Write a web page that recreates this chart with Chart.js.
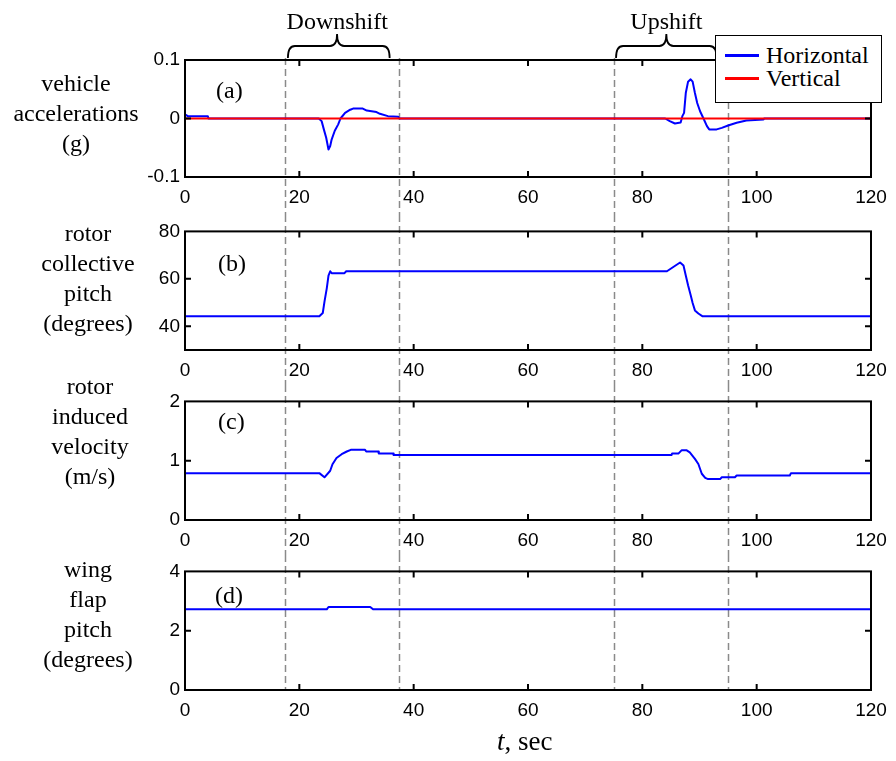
<!DOCTYPE html>
<html><head><meta charset="utf-8">
<script src="https://cdn.jsdelivr.net/npm/chart.js@4.4.1/dist/chart.umd.min.js"></script>
<style>
html,body{margin:0;padding:0;background:#fff;}
#wrap{position:relative;width:896px;height:761px;overflow:hidden;background:#fff;}
canvas{position:absolute;left:0;}
.t{position:absolute;font-family:'Liberation Serif','Times New Roman',serif;font-size:24px;color:#000;line-height:30px;white-space:nowrap;}
.yl{text-align:center;width:180px;}
#legend{position:absolute;left:715px;top:35px;width:165px;height:66px;border:1.5px solid #000;background:#fff;}
.lg{position:absolute;left:9px;width:34px;height:3px;}
</style></head><body>
<div id="wrap">
<canvas id="ca" width="896" height="215" style="top:0px"></canvas>
<canvas id="cb" width="896" height="170" style="top:215px"></canvas>
<canvas id="cc" width="896" height="170" style="top:385px"></canvas>
<canvas id="cd" width="896" height="206" style="top:555px"></canvas>

<div class="t yl" style="left:-14px;top:68px">vehicle<br>accelerations<br>(g)</div>
<div class="t yl" style="left:-2px;top:218px">rotor<br>collective<br>pitch<br>(degrees)</div>
<div class="t yl" style="left:0px;top:371px">rotor<br>induced<br>velocity<br>(m/s)</div>
<div class="t yl" style="left:-2px;top:554px">wing<br>flap<br>pitch<br>(degrees)</div>

<div class="t" style="left:216px;top:75px">(a)</div>
<div class="t" style="left:218px;top:248px">(b)</div>
<div class="t" style="left:218px;top:406px">(c)</div>
<div class="t" style="left:215px;top:580px">(d)</div>

<div class="t" id="lblDown" style="top:6px">Downshift</div>
<div class="t" id="lblUp" style="top:6px">Upshift</div>

<div id="legend"></div>

<div class="t" style="left:497px;top:726px;font-size:27px"><i>t</i>, sec</div>
</div>

<script>
// ---------------- data ----------------
const xTicks = [0, 20, 40, 60, 80, 100, 120];
const shiftLines = [17.5, 37.5, 75, 95];
const shiftNames = ['Downshift', 'Upshift'];
const shiftBraces = [[18, 26.6, 35.8], [75.4, 84.2, 93]];
const seriesNames = ['Horizontal', 'Vertical'];

// (a) vehicle accelerations (g)
const accH_t = [0, 0.5, 4, 4.1, 23.4, 23.9, 24.3, 24.7, 25.1, 25.4, 25.65, 26.2, 26.8, 27.2, 28.0, 28.9, 29.4, 31.1, 31.8, 33.5, 34.1, 35.5, 37.3, 37.5,
  84.0, 84.8, 85.7, 86.7, 87.0, 87.3, 87.6, 88.0, 88.45, 88.8, 89.2, 89.6, 90.1, 90.7, 91.3, 91.7, 93.0, 93.9, 95.0, 96.5, 98.2, 101.2, 101.3, 120];
const accH_v = [0.007, 0.004, 0.004, 0, 0, -0.0045, -0.019, -0.033, -0.053, -0.047, -0.036, -0.021, -0.010, 0, 0.0096, 0.015, 0.017, 0.017, 0.0135, 0.011, 0.008, 0.004, 0.003, 0,
  0, -0.0045, -0.0085, -0.007, 0.004, 0.0096, 0.0435, 0.063, 0.067, 0.063, 0.0435, 0.0265, 0.0124, 0, -0.013, -0.0186, -0.0186, -0.016, -0.012, -0.0073, -0.0034, -0.0017, 0, 0];
const accV_t = [0, 120];
const accV_v = [0, 0];
const yTicksA = [-0.1, 0, 0.1];

// (b) rotor collective pitch (degrees)
const pitch_t = [0, 23.5, 24.1, 24.4, 24.8, 25.1, 25.4, 25.65, 27.9, 28.2, 84.3, 86.6, 87.2, 87.6, 88.0, 88.45, 88.8, 89.2, 89.8, 90.55, 120];
const pitch_v = [44.2, 44.2, 45.6, 50.4, 56.0, 61.4, 63.2, 62.4, 62.4, 63.2, 63.2, 66.9, 65.6, 61.4, 57.3, 53.2, 49.8, 46.7, 45.4, 44.2, 44.2];
const yTicksB = [40, 60, 80];

// (c) rotor induced velocity (m/s)
const vi_t = [0, 23.5, 24.4, 25.4, 25.8, 26.5, 27.4, 28.3, 29.0, 31.5, 31.7, 33.8, 33.9, 36.4, 36.5, 85.1, 85.2, 86.3, 86.9, 87.7, 88.3, 89.2, 89.8, 90.4, 91.0, 91.5, 93.6, 93.9, 96.2, 96.5, 105.8, 106.0, 120];
const vi_v = [0.79, 0.79, 0.72, 0.83, 0.94, 1.045, 1.11, 1.155, 1.183, 1.183, 1.155, 1.155, 1.12, 1.12, 1.095, 1.095, 1.12, 1.12, 1.178, 1.178, 1.14, 1.03, 0.945, 0.78, 0.71, 0.69, 0.69, 0.72, 0.72, 0.75, 0.75, 0.79, 0.79];
const yTicksC = [0, 1, 2];

// (d) wing flap pitch (degrees)
const flap_t = [0, 24.8, 25.1, 32.4, 32.9, 120];
const flap_v = [2.72, 2.72, 2.8, 2.8, 2.72, 2.72];
const yTicksD = [0, 2, 4];

// ---------------- helpers ----------------
const BLUE = '#0000ff', RED = '#ff0000';
function pts(t, v) { return t.map((x, i) => ({ x: x, y: v[i] })); }

const dashPlugin = {
  id: 'dashLines',
  beforeDatasetsDraw(chart, args, opts) {
    const x = chart.scales.x, ctx = chart.ctx;
    ctx.save();
    ctx.strokeStyle = '#8a8a8a'; ctx.lineWidth = 1.5; ctx.setLineDash([7, 4]);
    shiftLines.forEach(t => {
      const px = Math.round(x.getPixelForValue(t)) + 0.5;
      ctx.beginPath(); ctx.moveTo(px, opts.from); ctx.lineTo(px, opts.to); ctx.stroke();
    });
    ctx.restore();
  }
};

const boxPlugin = {
  id: 'matBox',
  afterDatasetsDraw(chart) {
    const { ctx, chartArea: a, scales: { x, y } } = chart;
    const L = 6;
    ctx.save();
    ctx.strokeStyle = '#000'; ctx.lineWidth = 2; ctx.setLineDash([]);
    ctx.beginPath();
    x.ticks.forEach(t => {
      const p = x.getPixelForValue(t.value);
      if (p <= a.left + 1 || p >= a.right - 1) return;
      ctx.moveTo(p, a.bottom); ctx.lineTo(p, a.bottom - L);
      ctx.moveTo(p, a.top); ctx.lineTo(p, a.top + L);
    });
    y.ticks.forEach(t => {
      const p = y.getPixelForValue(t.value);
      if (p <= a.top + 1 || p >= a.bottom - 1) return;
      ctx.moveTo(a.left, p); ctx.lineTo(a.left + L, p);
      ctx.moveTo(a.right, p); ctx.lineTo(a.right - L, p);
    });
    ctx.stroke();
    ctx.strokeRect(a.left, a.top, a.right - a.left, a.bottom - a.top);
    ctx.restore();
  }
};

const bracePlugin = {
  id: 'braces',
  afterDraw(chart) {
    const x = chart.scales.x, ctx = chart.ctx;
    const yb = 58, yh = 46, yt = 34, r = 7;
    ctx.save();
    ctx.strokeStyle = '#000'; ctx.lineWidth = 1.8; ctx.setLineDash([]);
    shiftBraces.forEach((b, i) => {
      const x0 = x.getPixelForValue(b[0]), xm = x.getPixelForValue(b[1]), x1 = x.getPixelForValue(b[2]);
      ctx.beginPath();
      ctx.moveTo(x0, yb);
      ctx.quadraticCurveTo(x0, yh, x0 + r, yh);
      ctx.lineTo(xm - r, yh);
      ctx.quadraticCurveTo(xm, yh, xm, yt);
      ctx.quadraticCurveTo(xm, yh, xm + r, yh);
      ctx.lineTo(x1 - r, yh);
      ctx.quadraticCurveTo(x1, yh, x1, yb);
      ctx.stroke();
      const el = document.getElementById(i === 0 ? 'lblDown' : 'lblUp');
      el.textContent = shiftNames[i];
      el.style.left = (xm - el.offsetWidth / 2) + 'px';
    });
    ctx.restore();
  }
};

function makeChart(id, datasets, ymin, ymax, yticks, padTop, xh, dash, extra) {
  const tickFont = { family: "'Liberation Sans', Arial, sans-serif", size: 19 };
  return new Chart(document.getElementById(id), {
    type: 'line',
    data: { datasets: datasets },
    options: {
      responsive: false, animation: false, devicePixelRatio: 1,
      layout: { padding: { top: padTop, left: 0, right: 25, bottom: 0 } },
      plugins: { legend: { display: false }, tooltip: { enabled: false }, dashLines: dash },
      elements: { point: { radius: 0 }, line: { tension: 0, borderWidth: 2, borderJoinStyle: 'round', borderCapStyle: 'round' } },
      scales: {
        x: {
          type: 'linear', min: 0, max: 120,
          afterBuildTicks: s => { s.ticks = xTicks.map(v => ({ value: v })); },
          afterFit: s => { s.height = xh; },
          grid: { display: false, drawTicks: false }, border: { display: false },
          ticks: { font: tickFont, color: '#000', padding: 9, maxRotation: 0, autoSkip: false, callback: v => String(v) }
        },
        y: {
          type: 'linear', min: ymin, max: ymax,
          afterBuildTicks: s => { s.ticks = yticks.map(v => ({ value: v })); },
          afterFit: s => { s.width = 185; },
          grid: { display: false, drawTicks: false }, border: { display: false },
          ticks: { font: tickFont, color: '#000', padding: 5, autoSkip: false, callback: v => String(v) }
        }
      }
    },
    plugins: [dashPlugin, boxPlugin].concat(extra || [])
  });
}

function ds(label, t, v, color, order) {
  return { label: label, data: pts(t, v), borderColor: color, backgroundColor: color, borderWidth: 2,
    borderJoinStyle: 'round', borderCapStyle: 'round', fill: false, order: order, pointRadius: 0 };
}

makeChart('ca', [ds(seriesNames[0], accH_t, accH_v, BLUE, 1), ds(seriesNames[1], accV_t, accV_v, RED, 0)],
  -0.1, 0.1, yTicksA, 60, 38, { from: 58, to: 215 }, [bracePlugin]);
makeChart('cb', [ds('pitch', pitch_t, pitch_v, BLUE, 0)], 30, 80, yTicksB, 15, 35, { from: 0, to: 170 });
makeChart('cc', [ds('vi', vi_t, vi_v, BLUE, 0)], 0, 2, yTicksC, 15, 35, { from: 0, to: 170 });
makeChart('cd', [ds('flap', flap_t, flap_v, BLUE, 0)], 0, 4, yTicksD, 15, 71, { from: 0, to: 135 });

// legend built from series names
const lg = document.getElementById('legend');
[BLUE, RED].forEach((c, i) => {
  const line = document.createElement('div');
  line.className = 'lg'; line.style.background = c; line.style.top = (18 + i * 23) + 'px';
  lg.appendChild(line);
  const tx = document.createElement('div');
  tx.className = 't'; tx.textContent = seriesNames[i];
  tx.style.left = '50px'; tx.style.top = (4 + i * 23) + 'px';
  lg.appendChild(tx);
});
</script>
</body></html>
